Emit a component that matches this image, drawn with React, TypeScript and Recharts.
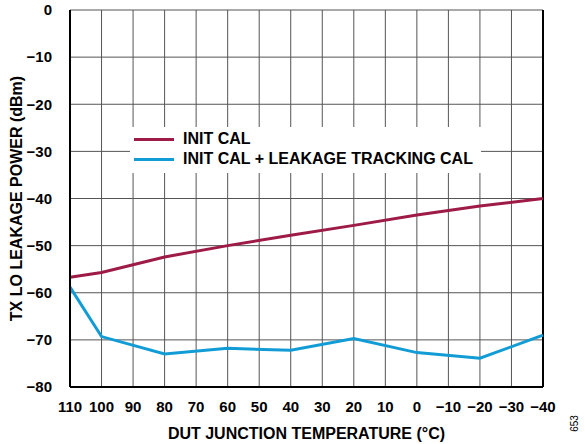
import React from "react";
import {
  LineChart,
  Line,
  XAxis,
  YAxis,
  CartesianGrid,
  ReferenceLine,
} from "recharts";

const temps = [110, 100, 80, 60, 40, 20, 0, -20, -40];
const initCal = [-56.7, -55.7, -52.4, -50.0, -47.8, -45.7, -43.5, -41.6, -40.0];
const trackingCal = [-58.8, -69.3, -73.0, -71.8, -72.2, -69.7, -72.7, -73.9, -69.0];
const xTicks = [110, 100, 90, 80, 70, 60, 50, 40, 30, 20, 10, 0, -10, -20, -30, -40];
const yTicks = [0, -10, -20, -30, -40, -50, -60, -70, -80];

const RED = "#9E1A47";
const BLUE = "#129CD6";
const FONT = "'Liberation Sans', Arial, sans-serif";

const data = temps.map((t, i) => ({ t, init: initCal[i], track: trackingCal[i] }));

const fmt = (v: number) => (v < 0 ? "\u2212" + Math.abs(v) : String(v));

const tickStyle = { fill: "#000", fontFamily: FONT, fontWeight: "bold", fontSize: 15 };
const labelStyle = { fill: "#000", fontFamily: FONT, fontWeight: "bold", fontSize: 16 };

function LegendBox() {
  const items = [
    { label: "INIT CAL", color: RED },
    { label: "INIT CAL + LEAKAGE TRACKING CAL", color: BLUE },
  ];
  return (
    <div
      style={{
        position: "absolute",
        left: 130,
        top: 127,
        background: "#fff",
        padding: "2px 8px 4px 4px",
        fontFamily: FONT,
        fontWeight: "bold",
        fontSize: 16,
        color: "#000",
      }}
    >
      {items.map((it) => (
        <div key={it.label} style={{ display: "flex", alignItems: "center", height: 20 }}>
          <div style={{ width: 40, height: 3, background: it.color, marginRight: 9 }} />
          <span>{it.label}</span>
        </div>
      ))}
    </div>
  );
}

export default function App() {
  return (
    <div style={{ position: "absolute", left: 0, top: 0, width: 585, height: 444 }}>
      <LineChart
        width={585}
        height={444}
        data={data}
        margin={{ top: 10, right: 42, bottom: 27, left: 0 }}
      >
        <CartesianGrid stroke="#555" strokeWidth={1} />
        <XAxis
          dataKey="t"
          type="number"
          domain={[-40, 110]}
          reversed
          ticks={xTicks}
          tickFormatter={fmt}
          interval={0}
          tickLine={false}
          axisLine={{ stroke: "#000", strokeWidth: 2 }}
          height={30}
          tickMargin={8}
          tick={tickStyle}
          label={{
            value: "DUT JUNCTION TEMPERATURE (°C)",
            position: "insideBottom",
            offset: -22,
            style: labelStyle,
          }}
        />
        <YAxis
          type="number"
          domain={[-80, 0]}
          ticks={yTicks}
          tickFormatter={fmt}
          interval={0}
          width={70}
          tickLine={false}
          axisLine={{ stroke: "#000", strokeWidth: 2 }}
          tickMargin={12}
          tick={tickStyle}
          label={{
            value: "TX LO LEAKAGE POWER (dBm)",
            angle: -90,
            position: "insideLeft",
            offset: 16,
            style: { ...labelStyle, textAnchor: "middle" },
          }}
        />
        <ReferenceLine x={-40} stroke="#000" strokeWidth={2} />
        <Line
          dataKey="init"
          stroke={RED}
          strokeWidth={3}
          dot={false}
          isAnimationActive={false}
        />
        <Line
          dataKey="track"
          stroke={BLUE}
          strokeWidth={3}
          dot={false}
          isAnimationActive={false}
        />
      </LineChart>
      <LegendBox />
      <div
        style={{
          position: "absolute",
          left: 566,
          top: 418,
          transform: "rotate(-90deg)",
          fontFamily: FONT,
          fontSize: 10,
          color: "#000",
        }}
      >
        653
      </div>
    </div>
  );
}
